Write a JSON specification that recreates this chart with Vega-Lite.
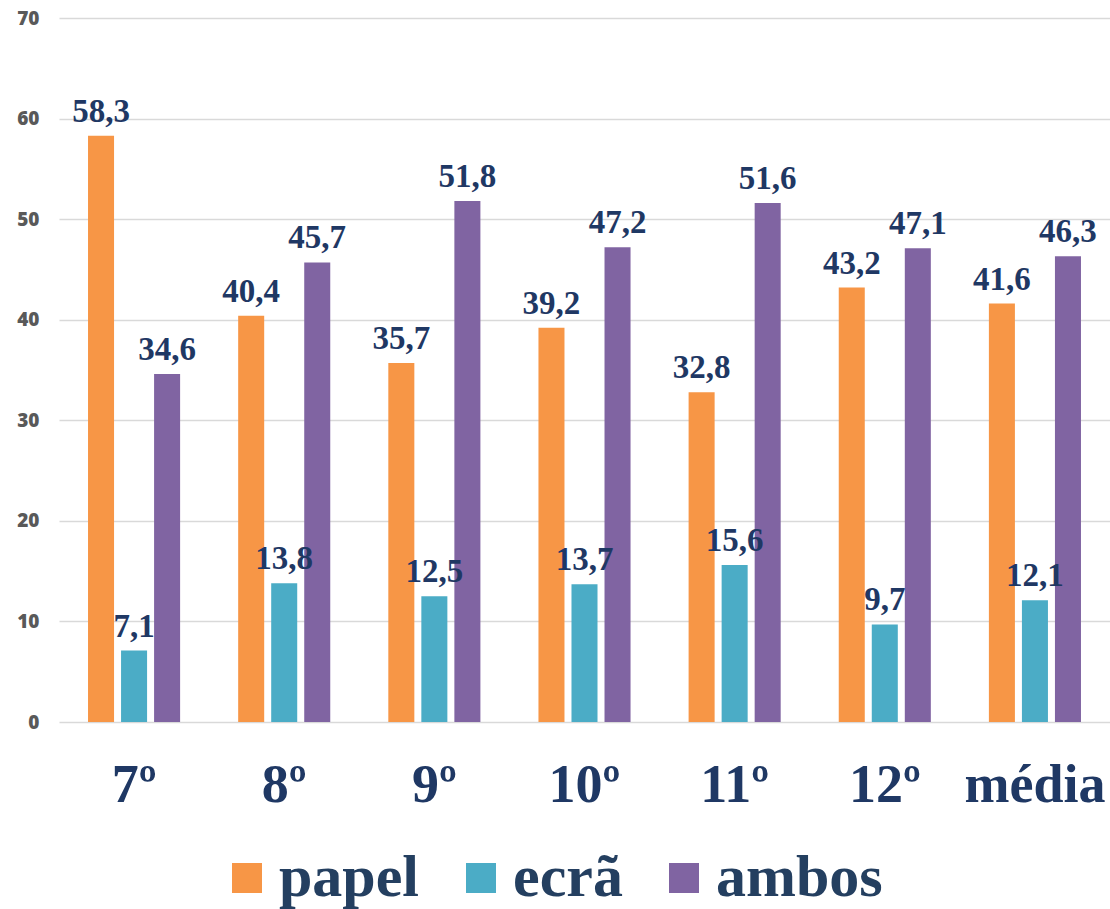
{
  "$schema": "https://vega.github.io/schema/vega-lite/v6.json",
  "width": 1051,
  "height": 704,
  "autosize": "none",
  "padding": {"left": 59, "top": 18, "right": 0, "bottom": 187},
  "config": {
    "locale": {"number": {"decimal": ",", "thousands": ".", "grouping": [3], "currency": ["", " €"]}},
    "view": {"stroke": null},
    "background": "white"
  },
  "data": {
    "values": [
      {"ano": "7º", "tipo": "papel", "valor": 58.3},
      {"ano": "7º", "tipo": "ecrã", "valor": 7.1},
      {"ano": "7º", "tipo": "ambos", "valor": 34.6},
      {"ano": "8º", "tipo": "papel", "valor": 40.4},
      {"ano": "8º", "tipo": "ecrã", "valor": 13.8},
      {"ano": "8º", "tipo": "ambos", "valor": 45.7},
      {"ano": "9º", "tipo": "papel", "valor": 35.7},
      {"ano": "9º", "tipo": "ecrã", "valor": 12.5},
      {"ano": "9º", "tipo": "ambos", "valor": 51.8},
      {"ano": "10º", "tipo": "papel", "valor": 39.2},
      {"ano": "10º", "tipo": "ecrã", "valor": 13.7},
      {"ano": "10º", "tipo": "ambos", "valor": 47.2},
      {"ano": "11º", "tipo": "papel", "valor": 32.8},
      {"ano": "11º", "tipo": "ecrã", "valor": 15.6},
      {"ano": "11º", "tipo": "ambos", "valor": 51.6},
      {"ano": "12º", "tipo": "papel", "valor": 43.2},
      {"ano": "12º", "tipo": "ecrã", "valor": 9.7},
      {"ano": "12º", "tipo": "ambos", "valor": 47.1},
      {"ano": "média", "tipo": "papel", "valor": 41.6},
      {"ano": "média", "tipo": "ecrã", "valor": 12.1},
      {"ano": "média", "tipo": "ambos", "valor": 46.3}
    ]
  },
  "encoding": {
    "x": {
      "field": "ano",
      "type": "nominal",
      "sort": ["7º", "8º", "9º", "10º", "11º", "12º", "média"],
      "scale": {"paddingInner": 0.3867, "paddingOuter": 0.1933},
      "axis": {
        "title": null,
        "domain": false,
        "ticks": false,
        "grid": false,
        "labelAngle": 0,
        "labelFont": "Liberation Serif",
        "labelFontWeight": "bold",
        "labelFontSize": 54,
        "labelColor": "#1F3864",
        "labelPadding": 36
      }
    },
    "xOffset": {
      "field": "tipo",
      "type": "nominal",
      "sort": ["papel", "ecrã", "ambos"],
      "scale": {"paddingInner": 0.2121, "paddingOuter": 0}
    },
    "y": {
      "field": "valor",
      "type": "quantitative",
      "scale": {"domain": [0, 70], "nice": false},
      "axis": {
        "title": null,
        "domain": false,
        "ticks": false,
        "values": [0, 10, 20, 30, 40, 50, 60, 70],
        "grid": true,
        "gridColor": "#d9d9d9",
        "gridWidth": 1.5,
        "labelFont": "Open Sans",
        "labelFontWeight": 800,
        "labelFontSize": 19,
        "labelColor": "#595959",
        "labelPadding": 20
      }
    }
  },
  "layer": [
    {
      "mark": {"type": "bar"},
      "encoding": {
        "color": {
          "field": "tipo",
          "type": "nominal",
          "scale": {"domain": ["papel", "ecrã", "ambos"], "range": ["#F79646", "#4BACC6", "#8064A2"]},
          "legend": {
            "title": null,
            "orient": "none",
            "legendX": 158,
            "legendY": 830,
            "direction": "horizontal",
            "symbolType": "square",
            "symbolSize": 900,
            "symbolStrokeWidth": 0,
            "symbolOpacity": 1,
            "labelFont": "Liberation Serif",
            "labelFontWeight": "bold",
            "labelFontSize": 60,
            "labelColor": "#243F60",
            "labelOffset": 2,
            "columnPadding": 31,
            "labelLimit": 400
          }
        }
      }
    },
    {
      "mark": {
        "type": "text",
        "font": "Liberation Serif",
        "fontWeight": "bold",
        "fontSize": 33,
        "color": "#1F3864",
        "baseline": "alphabetic",
        "dy": -14
      },
      "encoding": {
        "text": {"field": "valor", "type": "quantitative", "format": ".1f"}
      }
    }
  ]
}
